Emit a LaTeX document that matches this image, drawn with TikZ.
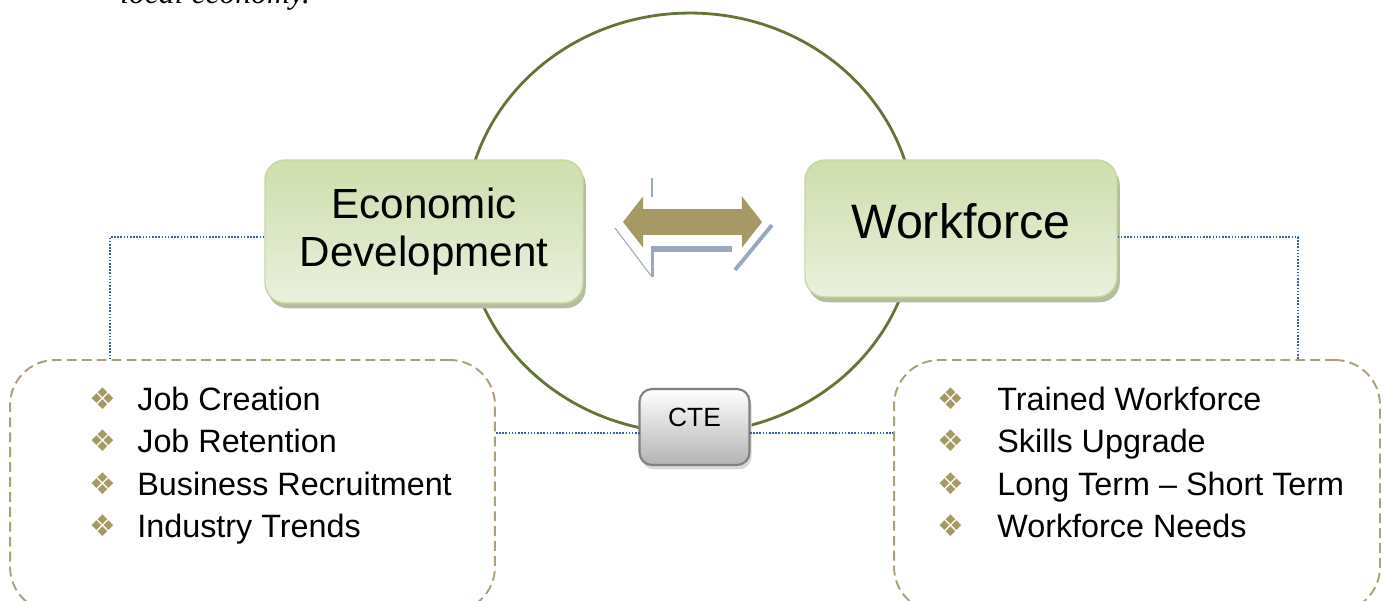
\documentclass[tikz,border=0pt]{standalone}
\usepackage{fontspec}
\setmainfont{Liberation Sans}
\newfontfamily\symfont{DejaVu Sans}
\newfontfamily\introfont{Liberation Serif}
\usepackage{tikz}
\usetikzlibrary{positioning,shapes,shapes.arrows,shapes.geometric,shadows,arrows}
\definecolor{ringgreen}{RGB}{99,117,52}
\definecolor{boxtop}{RGB}{206,222,172}
\definecolor{boxbottom}{RGB}{234,240,221}
\definecolor{boxedge}{RGB}{198,216,162}
\definecolor{boxshade}{RGB}{181,189,156}
\definecolor{khaki}{RGB}{166,153,102}
\definecolor{dashkhaki}{RGB}{172,160,116}
\definecolor{dotblue}{RGB}{47,100,166}
\definecolor{greyblue}{RGB}{155,169,190}
\tikzstyle{topic}=[rectangle,rounded corners=0.4cm,draw=boxedge,line width=0.8pt,top color=boxtop,bottom color=boxbottom,general shadow={fill=boxshade,shadow xshift=1.6pt,shadow yshift=-3pt},align=center,inner sep=0pt]
\tikzstyle{ctebox}=[rectangle,rounded corners=0.25cm,draw=black!50,line width=1.2pt,top color=white,bottom color=black!30,general shadow={fill=black!15,shadow xshift=1.2pt,shadow yshift=-2.5pt},inner sep=0pt]
\tikzstyle{itembox}=[rectangle,rounded corners=0.9cm,draw=dashkhaki,line width=1.1pt,dash pattern=on 5.6pt off 2.9pt,inner sep=0pt]
\tikzstyle{bullet}=[text=khaki,font={\symfont\fontsize{17}{17}\selectfont},inner sep=0pt]
\tikzstyle{item}=[anchor=base west,font={\fontsize{18.4}{22}\selectfont},inner sep=0pt]
\tikzstyle{tie}=[draw=dotblue,line width=0.9pt,dash pattern=on 0.9pt off 0.9pt]

\begin{document}
\begin{tikzpicture}[x=0.02cm,y=-0.02cm]
  \useasboundingbox (0,0) rectangle (1385,601);

  \node[anchor=base west,inner sep=0pt,font={\introfont\itshape\fontsize{18}{22}\selectfont}] (intro) at (120,4) {local economy.};

  \node[ellipse,draw=ringgreen,line width=1.6pt,minimum width=9cm,minimum height=8.4cm,inner sep=0pt] (ring) at (690,223) {};

  \node[itembox,minimum width=9.7cm,minimum height=5.04cm] (edbox) at (252.5,486) {};
  \node[itembox,minimum width=9.72cm,minimum height=5.04cm] (wfbox) at (1137,486) {};

  \node[topic,minimum width=6.36cm,minimum height=2.86cm,font={\fontsize{24}{27.2}\selectfont}] (econ) at (424,231.5) {Economic\\Development};
  \node[topic,minimum width=6.24cm,minimum height=2.74cm,font={\fontsize{27.5}{30}\selectfont},text depth=9pt] (work) at (961,228.5) {Workforce};

  \node[ctebox,minimum width=2.2cm,minimum height=1.52cm,font={\fontsize{15}{18}\selectfont},text depth=11.4pt] (cte) at (694.5,427) {CTE};

  % reflection behind the double arrow
  \draw[greyblue,line width=1.1pt] (652,178) -- (652,197);
  \draw[greyblue,line width=0.6pt] (615,228) -- (652,277);
  \fill[greyblue] (652,246) rectangle (732,252);
  \draw[greyblue,line width=1.7pt] (652,246) -- (652,277);
  \draw[greyblue,line width=2.2pt] (772,225) -- (735,270);

  \node[double arrow,fill=khaki,minimum height=2.78cm,inner xsep=0pt,inner ysep=0.25cm,double arrow head extend=0.26cm,double arrow tip angle=104] (swap) at (692.5,222) {};

  \coordinate (edcorner) at (110,237);
  \coordinate (wfcorner) at (1298,237);
  \coordinate (cteleft) at (640,433);
  \coordinate (cteright) at (750,433);

  \draw[tie] (econ.west |- edcorner) -- (edcorner) -- (edcorner |- edbox.north);
  \draw[tie] (work.east |- wfcorner) -- (wfcorner) -- (wfcorner |- wfbox.north);
  \draw[tie] (edbox.east |- cteleft) -- (cteleft);
  \draw[tie] (cteright) -- (wfbox.west |- cteright);

  \node[bullet] (edb1) at (103,399) {❖};
  \node[bullet] (edb2) at (103,441) {❖};
  \node[bullet] (edb3) at (103,484) {❖};
  \node[bullet] (edb4) at (103,526) {❖};
  \node[item] (ed1) at (137,410) {Job Creation};
  \node[item] (ed2) at (137,452) {Job Retention};
  \node[item] (ed3) at (137,495) {Business Recruitment};
  \node[item] (ed4) at (137,537) {Industry Trends};

  \node[bullet] (wfb1) at (951,399) {❖};
  \node[bullet] (wfb2) at (951,441) {❖};
  \node[bullet] (wfb3) at (951,484) {❖};
  \node[bullet] (wfb4) at (951,526) {❖};
  \node[item] (wf1) at (997,410) {Trained Workforce};
  \node[item] (wf2) at (997,452) {Skills Upgrade};
  \node[item] (wf3) at (997,495) {Long Term – Short Term};
  \node[item] (wf4) at (997,537) {Workforce Needs};

\end{tikzpicture}
\end{document}
